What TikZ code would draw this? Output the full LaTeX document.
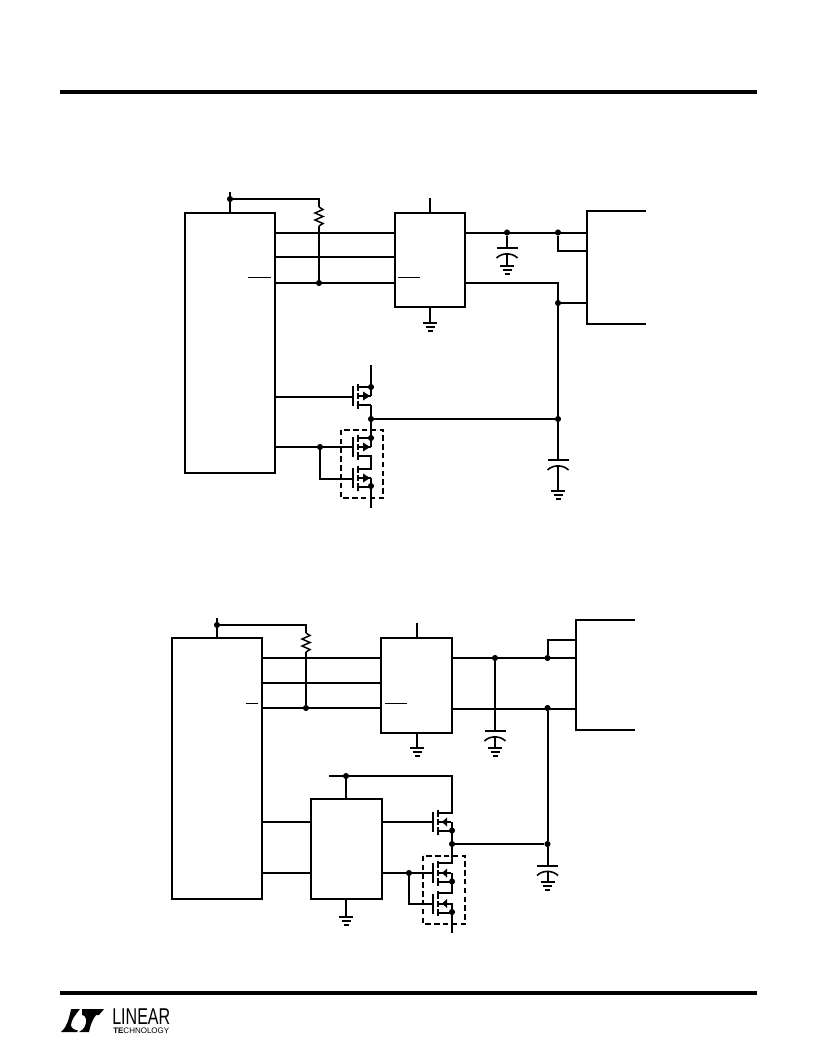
\documentclass[tikz,border=0pt]{standalone}
\usepackage{graphicx}
\usepackage{fontspec}
\setmainfont{Liberation Sans}
\tikzset{
  wire/.style={line width=1.5pt,line cap=butt,line join=miter},
  thin wire/.style={line width=0.6pt},
  rule/.style={line width=3pt},
  icbox/.style={draw,line width=1.5pt,rectangle,inner sep=0pt,outer sep=0pt},
  dot/.style={circle,fill=black,inner sep=0pt,minimum size=4.6pt},
  dashbox/.style={line width=1.2pt,dash pattern=on 4pt off 2.6pt}
}
\newcommand{\gndsym}[2]{% x, y of top bar
  \draw[line width=1.4pt] (#1-7,#2) -- (#1+7,#2) (#1-4.5,#2+4) -- (#1+4.5,#2+4);
  \draw[line width=1.4pt] (#1-2.5,#2+8) -- (#1+2.5,#2+8);}
\newcommand{\capgnd}[3]{% x, plate y, ground y
  \draw[wire] (#1-10.5,#2) -- (#1+10.5,#2);
  \draw[line width=1.2pt] (#1-10.5,#2+10) .. controls (#1-5,#2+4.5) and (#1+5,#2+4.5) .. (#1+10.5,#2+10);
  \draw[wire] (#1,#2+6) -- (#1,#3);
  \gndsym{#1}{#3}}
\newcommand{\fetbody}[4]{% channel x, centre y, arrow base, arrow tip (relative x)
  \begin{scope}[shift={(#1,#2)}]
    \draw[wire] (-5,-10) -- (-5,10);
    \draw[wire] (0,-12.5) -- (0,-5) (0,-3) -- (0,3) (0,5) -- (0,12.5);
    \draw[wire] (0,0) -- (13,0);
    \fill (#3,-4.5) -- (#4,0) -- (#3,4.5) -- cycle;
  \end{scope}}
\newcommand{\resist}[2]{% x, top y
  \draw[line width=1.1pt,line join=miter] (#1,#2) -- (#1+4,#2+2.5) -- (#1-4,#2+6) -- (#1+4,#2+9.5) -- (#1-4,#2+13) -- (#1+4,#2+16.5) -- (#1,#2+19);}
\begin{document}
\begin{tikzpicture}[x=0.75pt,y=-0.75pt]
\useasboundingbox (0,0) rectangle (816,1056);
\fill[white] (0,0) rectangle (816,1056);
% page rules
\coordinate (hl) at (60,92); \coordinate (hr) at (757,92);
\coordinate (fl) at (60,993); \coordinate (fr) at (757,993);
\draw[rule] (hl) -- (hr);
\draw[rule] (fl) -- (fr);

%%%%%%%%%% TOP CIRCUIT
\node[icbox,minimum width=67.5pt,minimum height=195pt] (A1) at (230,343) {};
\node[icbox,minimum width=52.5pt,minimum height=70.5pt] (A2) at (430,260) {};
\coordinate (AvccT) at (230,192);
\node[dot] (Avcc) at (230,199) {};
\coordinate (Artop) at (319,199);
\coordinate (Ar1) at (319,207);
\coordinate (Ar2) at (319,226);
\node[dot] (Ajr) at (319,283) {};
\draw[wire] (AvccT) -- (A1.north-|AvccT);
\draw[wire] (Avcc) -- (Artop) -- (Ar1);
\resist{319}{207}
\draw[wire] (Ar2) -- (Ajr);
\draw[wire] (A1.east|-0,233) -- (A2.west|-0,233);
\draw[wire] (A1.east|-0,257) -- (A2.west|-0,257);
\draw[wire] (A1.east|-0,283) -- (A2.west|-0,283);
\draw[thin wire] (248,277) -- (271,277);
\draw[thin wire] (398,277) -- (420,277);
\coordinate (A2t) at (430,198); \draw[wire] (A2t) -- (A2.north);
\coordinate (A2g) at (430,323); \draw[wire] (A2.south) -- (A2g); \gndsym{430}{323}
% connector A
\coordinate (Ac1) at (646,211); \coordinate (Ac2) at (587,211);
\coordinate (Ac3) at (587,324); \coordinate (Ac4) at (646,324);
\draw[wire] (Ac1) -- (Ac2) -- (Ac3) -- (Ac4);
\node[dot] (Acp) at (507,232.5) {};
\node[dot] (Aj1) at (558,232.5) {};
\draw[wire] (A2.east|-0,233) -- (587,233);
\draw[wire] (Aj1) -- (558,251) -- (587,251);
\draw[wire] (Acp) -- (507,248);
\capgnd{507}{248}{266}
\node[dot] (Aj2) at (558,303) {};
\node[dot] (Aj3) at (558,419) {};
\draw[wire] (A2.east|-0,283) -- (558,283) -- (558,460);
\draw[wire] (Aj2) -- (587,303);
\capgnd{558}{460}{491}
% MOSFET A
\node[dot] (Afs) at (371,387) {};
\node[dot] (Afj) at (371,419) {};
\node[dot] (Ad1) at (371,438) {};
\node[dot] (Ad2) at (371,486) {};
\node[dot] (Agj) at (320,447) {};
\draw[wire] (371,365) -- (371,396);
\draw[wire] (358,387) -- (371,387);
\draw[wire] (371,405) -- (358,405);
\draw[wire] (371,405) -- (371,438);
\fetbody{358}{396}{5}{12}
\draw[wire] (A1.east|-0,397) -- (353,397);
\draw[wire] (Afj) -- (Aj3);
% pair A
\draw[wire] (358,438) -- (371,438) -- (371,447);
\fetbody{358}{447}{5}{12}
\draw[wire] (358,456) -- (371,456) -- (371,469) -- (358,469);
\fetbody{358}{478}{5}{12}
\draw[wire] (371,478) -- (371,508);
\draw[wire] (358,487) -- (371,487);
\draw[wire] (A1.east|-0,447) -- (353,447);
\draw[wire] (Agj) -- (320,479) -- (353,479);
\draw[dashbox] (341,430) rectangle (383,498);

%%%%%%%%%% BOTTOM CIRCUIT
\node[icbox,minimum width=67.5pt,minimum height=195.75pt] (B1) at (217,768.5) {};
\node[icbox,minimum width=53.25pt,minimum height=71.25pt] (B2) at (416.5,685.5) {};
\node[icbox,minimum width=53.25pt,minimum height=75pt] (B3) at (346.5,849) {};
\coordinate (BvccT) at (217,618);
\node[dot] (Bvcc) at (217,625) {};
\coordinate (Brtop) at (306,625);
\coordinate (Br1) at (306,633);
\coordinate (Br2) at (306,652);
\node[dot] (Bjr) at (306,708) {};
\draw[wire] (BvccT) -- (B1.north-|BvccT);
\draw[wire] (Bvcc) -- (Brtop) -- (Br1);
\resist{306}{633}
\draw[wire] (Br2) -- (Bjr);
\draw[wire] (B1.east|-0,658) -- (B2.west|-0,658);
\draw[wire] (B1.east|-0,683) -- (B2.west|-0,683);
\draw[wire] (B1.east|-0,708) -- (B2.west|-0,708);
\draw[thin wire] (246,703) -- (258,703);
\draw[thin wire] (385,703) -- (407,703);
\coordinate (B2t) at (417,623); \draw[wire] (B2t) -- (B2.north-|B2t);
\coordinate (B2g) at (417,748); \draw[wire] (B2.south-|B2g) -- (B2g); \gndsym{417}{748}
% connector B
\coordinate (Bc1) at (635,620); \coordinate (Bc2) at (576,620);
\coordinate (Bc3) at (576,730); \coordinate (Bc4) at (635,730);
\draw[wire] (Bc1) -- (Bc2) -- (Bc3) -- (Bc4);
\node[dot] (Bcp) at (495,658) {};
\node[dot] (Bj1) at (547.5,658) {};
\node[dot] (Bj2) at (547.5,708) {};
\node[dot] (Bj3) at (547.5,844) {};
\draw[wire] (B2.east|-0,658) -- (576,658);
\draw[wire] (Bj1) -- (547.5,640) -- (576,640);
\draw[wire] (B2.east|-0,708.5) -- (576,708.5);
\draw[wire] (Bcp) -- (495,731);
\capgnd{495}{731}{748}
\draw[wire] (Bj2) -- (Bj3) -- (547.5,866);
\capgnd{547.5}{865.5}{882}
% supply to B3 and MOSFET
\coordinate (Bsl) at (329,776);
\node[dot] (Bsj) at (346,776) {};
\draw[wire] (Bsj) -- (B3.north-|Bsj);
\draw[wire] (Bsl) -- (452,776) -- (452,813) -- (438,813);
\fetbody{438}{822}{9}{4}
\draw[wire] (B3.east|-0,822) -- (433,822);
\node[dot] (Bfd) at (452,830.5) {};
\node[dot] (Bfj) at (452,844) {};
\draw[wire] (438,831) -- (452,831);
\draw[wire] (452,822) -- (452,844);
\draw[wire] (Bfj) -- (Bj3);
% pair B
\draw[wire] (452,844) -- (452,863) -- (438,863);
\fetbody{438}{873}{9}{4}
\node[dot] (Bd1) at (452,881.5) {};
\draw[wire] (452,873) -- (452,893) -- (438,893);
\draw[wire] (438,882) -- (452,882);
\fetbody{438}{903.5}{9}{4}
\node[dot] (Bd2) at (452,912) {};
\draw[wire] (438,912.5) -- (452,912.5);
\draw[wire] (452,903) -- (452,933);
\node[dot] (Bgj) at (409,873) {};
\draw[wire] (B3.east|-0,873) -- (433,873);
\draw[wire] (Bgj) -- (409,904) -- (433,904);
\draw[dashbox] (423,856) rectangle (465,924);
\coordinate (B3g) at (346,917); \draw[wire] (B3.south-|B3g) -- (B3g); \gndsym{346}{917}
\draw[wire] (B1.east|-0,822) -- (B3.west|-0,822);
\draw[wire] (B1.east|-0,873) -- (B3.west|-0,873);

%%%%%%%%%% LOGO
\fill (61,1032) .. controls (66,1028) and (69,1020) .. (71,1009) -- (80,1009)
  .. controls (76,1014) and (71,1020) .. (71,1025)
  .. controls (71,1028) and (74,1030) .. (78,1030.5) -- (77,1032) -- cycle;
\fill (82,1009) -- (104,1009) -- (99,1015) -- (96,1015)
  .. controls (92,1020) and (90,1027) .. (89,1032) -- (79,1032)
  .. controls (84,1030) and (87,1024) .. (86,1019)
  .. controls (85.5,1016) and (84,1015) .. (82,1015) -- cycle;
\node[inner sep=0pt,anchor=north west] (logoA) at (112,1008.5) {\resizebox{43.5pt}{11.8pt}{LINEAR}};
\node[inner sep=0pt,anchor=north west] (logoB) at (113,1027.5) {\resizebox{42pt}{4.2pt}{\textbf{TE}CHNOLOGY}};
\end{tikzpicture}
\end{document}
